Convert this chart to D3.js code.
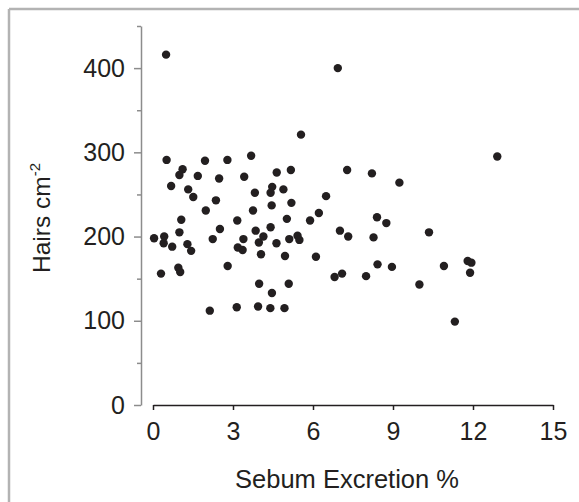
<!DOCTYPE html>
<html>
<head>
<meta charset="utf-8">
<script src="https://cdn.jsdelivr.net/npm/d3@7"></script>
<style>
  body { margin: 0; background: #fff; }
  svg { display: block; font-family: "Liberation Sans", Arial, sans-serif; }
</style>
</head>
<body>
<svg id="chart" width="579" height="502"></svg>
<script>
// sebum excretion (%) vs hair density (hairs per cm2), one entry per subject
var sebum = [0.49, 6.93, 5.55, 12.91, 0.51, 1.95, 2.79, 3.68, 1.11, 0.99,
             1.68, 2.48, 3.42, 4.64, 0.68, 1.32, 1.51, 2.36, 3.82, 4.47,
             4.41, 1.98, 3.75, 4.45, 1.06, 3.16, 0.99, 2.51, 3.85, 4.41,
             0.04, 0.42, 2.24, 3.39, 4.14, 3.97, 0.40, 0.72, 1.29, 1.43,
             3.18, 3.36, 4.63, 4.05, 0.30, 0.95, 1.02, 2.80, 3.98, 4.46,
             2.13, 3.14, 3.94, 4.40, 4.93, 5.17, 7.28, 8.21, 9.24, 4.89,
             6.49, 5.19, 6.22, 5.89, 5.02, 8.40, 8.75, 7.01, 7.32, 8.27,
             5.42, 5.11, 5.49, 4.95, 6.11, 8.42, 8.96, 7.09, 6.81, 7.99,
             9.99, 5.09, 10.35, 10.91, 11.32, 11.80, 11.94, 11.89];
var hairs = [416, 400, 321, 295, 291, 290, 291, 296, 280, 273,
             272, 269, 271, 276, 260, 256, 247, 243, 252, 259,
             252, 231, 231, 237, 220, 219, 205, 209, 207, 211,
             198, 200, 197, 197, 200, 193, 192, 188, 191, 183,
             187, 184, 192, 179, 156, 163, 158, 165, 144, 133,
             112, 116, 117, 115, 115, 279, 279, 275, 264, 256,
             248, 240, 228, 219, 221, 223, 216, 207, 200, 199,
             201, 197, 196, 177, 176, 167, 164, 156, 152, 153,
             143, 144, 205, 165, 99, 171, 169, 157];

var xTicks = [0, 3, 6, 9, 12, 15];
var yTicks = [0, 100, 200, 300, 400];
var yMinorTicks = [50, 150, 250, 350, 450];

var ink = "#231f20";
var svg = d3.select("#chart");

var x = d3.scaleLinear().domain([0, 15]).range([153, 553]);
var y = d3.scaleLinear().domain([0, 450]).range([405, 26]);
var yAxisX = 141;

// frame: top and left edge only
svg.append("line").attr("x1", 9).attr("x2", 579).attr("y1", 9).attr("y2", 9)
   .attr("stroke", "#b3b3b3").attr("stroke-width", 2.5);
svg.append("line").attr("x1", 9).attr("x2", 9).attr("y1", 9).attr("y2", 502)
   .attr("stroke", "#b3b3b3").attr("stroke-width", 2.5);

// y axis (grey, major + minor ticks)
var gy = svg.append("g")
    .attr("transform", "translate(" + yAxisX + ",0)")
    .call(d3.axisLeft(y).tickValues(yTicks).tickSize(7).tickSizeOuter(0).tickPadding(9));
gy.select(".domain").attr("stroke", "#8c8c8c").attr("stroke-width", 1.5);
gy.selectAll(".tick line").attr("stroke", "#8c8c8c").attr("stroke-width", 1.5);
gy.selectAll(".tick text").attr("fill", ink).style("font-size", "25px");

var gyMinor = svg.append("g")
    .attr("transform", "translate(" + yAxisX + ",0)")
    .call(d3.axisLeft(y).tickValues(yMinorTicks).tickSize(4).tickFormat(""));
gyMinor.select(".domain").remove();
gyMinor.selectAll(".tick line").attr("stroke", "#8c8c8c").attr("stroke-width", 1.5);

// x axis
var gx = svg.append("g")
    .attr("transform", "translate(0," + y(0) + ")")
    .call(d3.axisBottom(x).tickValues(xTicks).tickSize(5).tickSizeOuter(0).tickPadding(12));
gx.select(".domain").attr("stroke", ink).attr("stroke-width", 1.5);
gx.selectAll(".tick line").attr("stroke", ink).attr("stroke-width", 1.5);
gx.selectAll(".tick text").attr("fill", ink).style("font-size", "25px");

// points
svg.append("g").selectAll("circle")
    .data(sebum)
    .enter().append("circle")
    .attr("cx", function(d) { return x(d); })
    .attr("cy", function(d, i) { return y(hairs[i]); })
    .attr("r", 4.2)
    .attr("fill", ink);

// axis titles
svg.append("text")
    .attr("x", 347).attr("y", 488)
    .attr("text-anchor", "middle")
    .attr("fill", ink)
    .style("font-size", "25.5px")
    .text("Sebum Excretion %");

var yt = svg.append("text")
    .attr("transform", "translate(50,218) rotate(-90)")
    .attr("text-anchor", "middle")
    .attr("fill", ink)
    .style("font-size", "24.5px");
yt.append("tspan").text("Hairs cm");
yt.append("tspan").attr("dy", -10).style("font-size", "15px").text("-2");
</script>
</body>
</html>
